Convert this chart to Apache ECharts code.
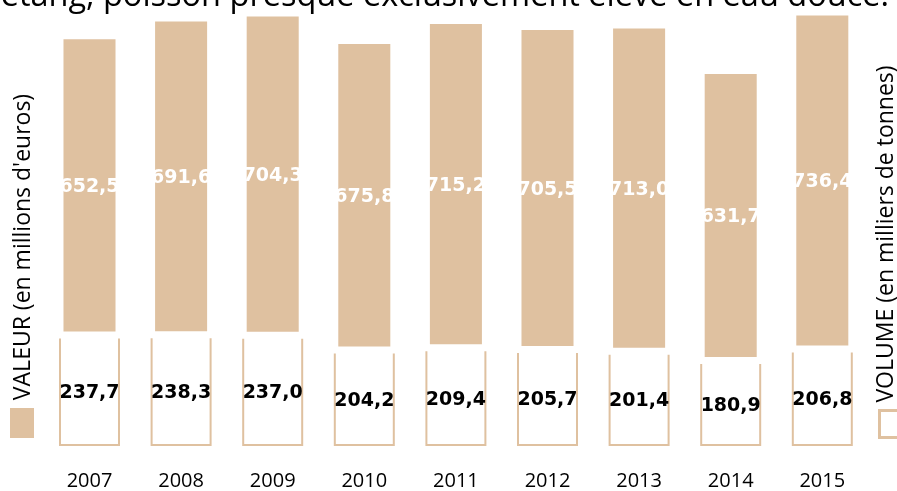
<!DOCTYPE html>
<html>
<head>
<meta charset="utf-8">
<script src="https://cdn.jsdelivr.net/npm/echarts@6/dist/echarts.min.js"></script>
<style>
html,body{margin:0;padding:0;background:#fff;}
#c{width:897px;height:491px;}
</style>
</head>
<body>
<div id="c"></div>
<script>
// Data
const years = ['2007','2008','2009','2010','2011','2012','2013','2014','2015'];
const valeur = [652.5, 691.6, 704.3, 675.8, 715.2, 705.5, 713.0, 631.7, 736.4]; // millions d'euros
const volume = [237.7, 238.3, 237.0, 204.2, 209.4, 205.7, 201.4, 180.9, 206.8]; // milliers de tonnes
const titleText = 'étang, poisson presque exclusivement élevé en eau douce.';
const leftName = "VALEUR (en millions d'euros)";
const rightName = 'VOLUME (en milliers de tonnes)';

const TAN = '#dfc1a0';
const fmt = v => v.toFixed(1).replace('.', ',');

const chart = echarts.init(document.getElementById('c'), null, {renderer: 'canvas'});
const data = years.map((y, i) => [i, volume[i], valeur[i]]);

chart.setOption({
  animation: false,
  grid: {left: 43.7, right: 28.9, top: 10.6, bottom: 42},
  xAxis: {
    type: 'category', data: years, boundaryGap: true,
    axisLine: {show: false}, axisTick: {show: false}, splitLine: {show: false},
    axisLabel: {margin: 26, color: '#000', fontFamily: 'Open Sans', fontSize: 20}
  },
  yAxis: {type: 'value', min: 0, max: 970, show: false, splitLine: {show: false}},
  series: [{
    type: 'custom',
    data: data,
    encode: {x: 0, y: 1},
    clip: false,
    renderItem: function (params, api) {
      const i = api.value(0), vol = api.value(1), val = api.value(2);
      const base = api.coord([i, 0]);
      const top = api.coord([i, vol]);
      const band = api.size([1, 0])[0];
      const uw = band * 0.644, bw = band * 0.568;
      const cx = base[0];
      const h = api.size([0, val])[1];
      const vb = top[1] - 7;
      return {
        type: 'group',
        children: [
          {type: 'rect', shape: {x: cx - bw / 2, y: vb - h, width: bw, height: h}, style: {fill: TAN}},
          {type: 'polyline', shape: {points: [[cx - uw / 2, top[1]], [cx - uw / 2, base[1]], [cx + uw / 2, base[1]], [cx + uw / 2, top[1]]]},
            style: {stroke: TAN, lineWidth: 2, fill: null}},
          {type: 'text', x: cx, y: vb - h / 2 + 2, style: {text: fmt(val), fill: '#fff', font: 'bold 19px "DejaVu Sans"', align: 'center', verticalAlign: 'middle'}},
          {type: 'text', x: cx, y: (top[1] + base[1]) / 2 + 1.5, style: {text: fmt(vol), fill: '#000', font: 'bold 19px "DejaVu Sans"', align: 'center', verticalAlign: 'middle'}}
        ]
      };
    }
  }],
  graphic: [
    {type: 'text', x: 889, y: -3, style: {text: titleText, fill: '#000', font: '32.5px "Open Sans"', align: 'right', verticalAlign: 'middle'}},
    {type: 'text', x: 23.3, y: 247, rotation: Math.PI / 2, style: {text: leftName, fill: '#000', font: '23px "Open Sans"', align: 'center', verticalAlign: 'middle'}},
    {type: 'text', x: 886.5, y: 234, rotation: Math.PI / 2, style: {text: rightName, fill: '#000', font: '23px "Open Sans"', align: 'center', verticalAlign: 'middle'}},
    {type: 'rect', shape: {x: 10, y: 408, width: 24, height: 30}, style: {fill: TAN}},
    {type: 'rect', shape: {x: 879.5, y: 410.5, width: 24, height: 27}, style: {fill: '#fff', stroke: TAN, lineWidth: 3}}
  ]
});
</script>
</body>
</html>
